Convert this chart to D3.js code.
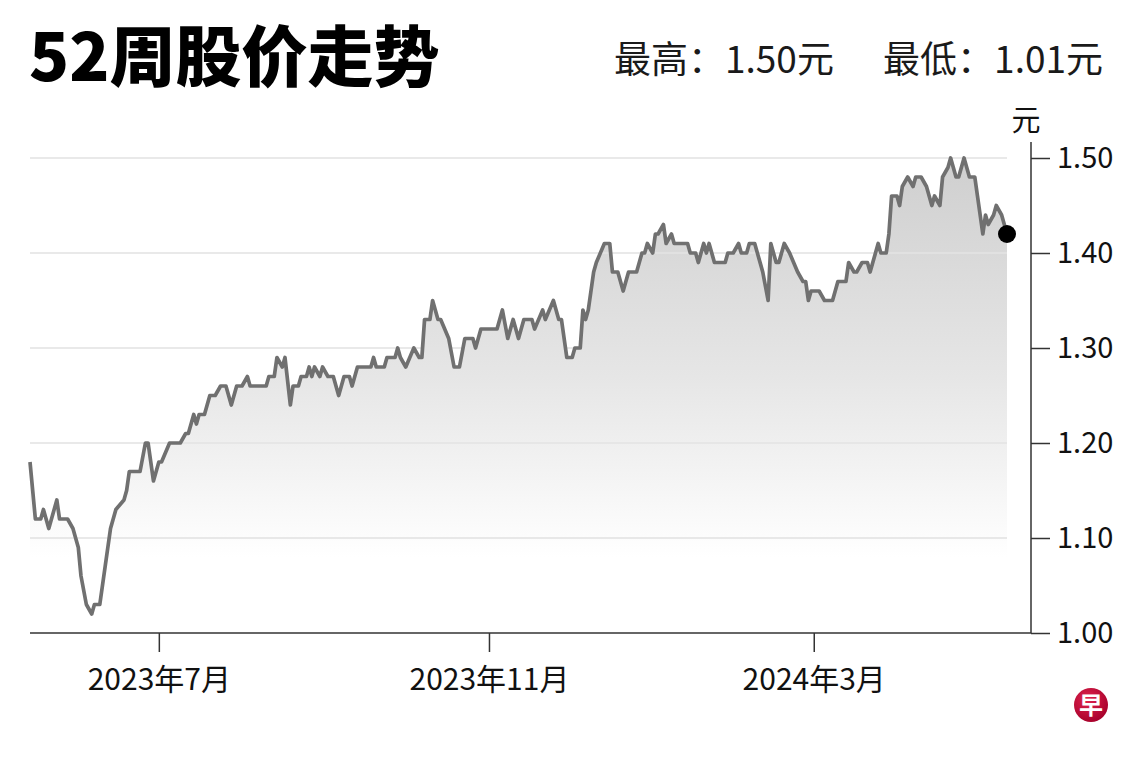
<!DOCTYPE html>
<html>
<head>
<meta charset="utf-8">
<script src="https://cdn.jsdelivr.net/npm/d3@7"></script>
<style>
  body { margin: 0; background: #fff; }
  svg { display: block; font-family: "Noto Sans CJK SC", "Noto Sans", sans-serif; }
</style>
</head>
<body>
<div id="chart"></div>
<script>
let w = 1140;
let h = 760;

// chart values
let dates = [
  "2023-05-14","2023-05-16","2023-05-18","2023-05-19","2023-05-21","2023-05-22","2023-05-24","2023-05-25","2023-05-28","2023-05-30",
  "2023-06-01","2023-06-02","2023-06-04","2023-06-06","2023-06-07","2023-06-09","2023-06-11","2023-06-13","2023-06-15","2023-06-18",
  "2023-06-19","2023-06-20","2023-06-24","2023-06-26","2023-06-27","2023-06-29","2023-07-01","2023-07-02","2023-07-05","2023-07-09",
  "2023-07-11","2023-07-12","2023-07-14","2023-07-15","2023-07-16","2023-07-18","2023-07-20","2023-07-22","2023-07-24","2023-07-26",
  "2023-07-28","2023-07-30","2023-08-01","2023-08-03","2023-08-04","2023-08-10","2023-08-11","2023-08-13","2023-08-14","2023-08-16",
  "2023-08-17","2023-08-19","2023-08-20","2023-08-22","2023-08-23","2023-08-25","2023-08-26","2023-08-27","2023-08-28","2023-08-30",
  "2023-08-31","2023-09-02","2023-09-04","2023-09-06","2023-09-08","2023-09-10","2023-09-11","2023-09-13","2023-09-18","2023-09-19",
  "2023-09-20","2023-09-23","2023-09-24","2023-09-27","2023-09-28","2023-09-29","2023-10-01","2023-10-04","2023-10-06","2023-10-07",
  "2023-10-08","2023-10-10","2023-10-11","2023-10-13","2023-10-14","2023-10-17","2023-10-19","2023-10-21","2023-10-23","2023-10-26",
  "2023-10-27","2023-10-29","2023-11-04","2023-11-06","2023-11-08","2023-11-10","2023-11-12","2023-11-14","2023-11-17","2023-11-18",
  "2023-11-21","2023-11-22","2023-11-25","2023-11-27","2023-11-28","2023-11-30","2023-12-02","2023-12-03","2023-12-05","2023-12-06",
  "2023-12-07","2023-12-08","2023-12-10","2023-12-11","2023-12-14","2023-12-16","2023-12-17","2023-12-19","2023-12-21","2023-12-23",
  "2023-12-26","2023-12-28","2023-12-29","2023-12-30","2024-01-01","2024-01-02","2024-01-03","2024-01-05","2024-01-06","2024-01-08",
  "2024-01-09","2024-01-14","2024-01-15","2024-01-17","2024-01-18","2024-01-20","2024-01-21","2024-01-22","2024-01-24","2024-01-28",
  "2024-01-29","2024-01-31","2024-02-02","2024-02-03","2024-02-05","2024-02-06","2024-02-08","2024-02-09","2024-02-11","2024-02-13",
  "2024-02-14","2024-02-16","2024-02-17","2024-02-19","2024-02-21","2024-02-24","2024-02-26","2024-02-27","2024-02-28","2024-02-29",
  "2024-03-03","2024-03-05","2024-03-08","2024-03-10","2024-03-13","2024-03-14","2024-03-16","2024-03-17","2024-03-19","2024-03-21",
  "2024-03-22","2024-03-25","2024-03-26","2024-03-28","2024-03-29","2024-03-30","2024-04-01","2024-04-02","2024-04-03","2024-04-05",
  "2024-04-07","2024-04-08","2024-04-10","2024-04-12","2024-04-14","2024-04-15","2024-04-17","2024-04-18","2024-04-20","2024-04-21",
  "2024-04-23","2024-04-24","2024-04-26","2024-04-28","2024-04-30","2024-05-01","2024-05-03","2024-05-04","2024-05-05","2024-05-07",
  "2024-05-08","2024-05-10","2024-05-12"
];
let prices = [
  1.18,1.12,1.12,1.13,1.11,1.12,1.14,1.12,1.12,1.11,
  1.09,1.06,1.03,1.02,1.03,1.03,1.07,1.11,1.13,1.14,
  1.15,1.17,1.17,1.20,1.20,1.16,1.18,1.18,1.20,1.20,
  1.21,1.21,1.23,1.22,1.23,1.23,1.25,1.25,1.26,1.26,
  1.24,1.26,1.26,1.27,1.26,1.26,1.27,1.27,1.29,1.28,
  1.29,1.24,1.26,1.26,1.27,1.27,1.28,1.27,1.28,1.27,
  1.28,1.27,1.27,1.25,1.27,1.27,1.26,1.28,1.28,1.29,
  1.28,1.28,1.29,1.29,1.30,1.29,1.28,1.30,1.29,1.29,
  1.33,1.33,1.35,1.33,1.33,1.31,1.28,1.28,1.31,1.31,
  1.30,1.32,1.32,1.34,1.31,1.33,1.31,1.33,1.33,1.32,
  1.34,1.33,1.35,1.33,1.33,1.29,1.29,1.30,1.30,1.34,
  1.33,1.34,1.38,1.39,1.41,1.41,1.38,1.38,1.36,1.38,
  1.38,1.40,1.40,1.41,1.40,1.42,1.42,1.43,1.41,1.42,
  1.41,1.41,1.40,1.40,1.39,1.41,1.40,1.41,1.39,1.39,
  1.40,1.40,1.41,1.40,1.40,1.41,1.41,1.40,1.38,1.35,
  1.41,1.39,1.39,1.41,1.40,1.38,1.37,1.37,1.35,1.36,
  1.36,1.35,1.35,1.37,1.37,1.39,1.38,1.38,1.39,1.39,
  1.38,1.41,1.40,1.40,1.42,1.46,1.46,1.45,1.47,1.48,
  1.47,1.48,1.48,1.47,1.45,1.46,1.45,1.48,1.49,1.50,
  1.48,1.48,1.50,1.48,1.48,1.46,1.42,1.44,1.43,1.44,
  1.45,1.44,1.42
];
let xTicks = ["2023-07-01", "2023-11-01", "2024-03-01"];
let yTicks = [1.00, 1.10, 1.20, 1.30, 1.40, 1.50];
let title = "52周股价走势";
let highText = "最高：1.50元";
let lowText = "最低：1.01元";
let unitText = "元";

let parseDate = d3.timeParse("%Y-%m-%d");

let data = dates.map(function(d, i){
  return {date: parseDate(d), price: prices[i]};
});

let viz = d3.select("#chart")
  .append("svg")
    .attr("width", w)
    .attr("height", h)
;

// scales
let xScale = d3.scaleTime()
  .domain(d3.extent(data, d => d.date))
  .range([30, 1007]);
let yScale = d3.scaleLinear()
  .domain([1.00, 1.50])
  .range([633, 158]);

let axisX = 1031;
let baseY = yScale(1.00);

// gradient under the line
let defs = viz.append("defs");
let grad = defs.append("linearGradient")
  .attr("id", "areaFill")
  .attr("gradientUnits", "userSpaceOnUse")
  .attr("x1", 0).attr("x2", 0)
  .attr("y1", yScale(1.50)).attr("y2", yScale(1.08));
grad.append("stop").attr("offset", "0%").attr("stop-color", "#cfcfcf");
grad.append("stop").attr("offset", "55%").attr("stop-color", "#e6e6e6");
grad.append("stop").attr("offset", "100%").attr("stop-color", "#ffffff");

let area = d3.area()
  .x(d => xScale(d.date))
  .y0(baseY)
  .y1(d => yScale(d.price));

viz.append("path")
  .datum(data)
  .attr("d", area)
  .attr("fill", "url(#areaFill)");

// gridlines (on top of the fill, faint)
viz.append("g")
  .selectAll("line")
  .data(yTicks.filter(v => v > 1.00))
  .enter()
  .append("line")
    .attr("x1", 30)
    .attr("x2", xScale.range()[1])
    .attr("y1", d => yScale(d))
    .attr("y2", d => yScale(d))
    .attr("stroke", "#e4e4e4")
    .attr("stroke-width", 2)
    .attr("opacity", 0.8)
;

// price line
let line = d3.line()
  .x(d => xScale(d.date))
  .y(d => yScale(d.price));

viz.append("path")
  .datum(data)
  .attr("d", line)
  .attr("fill", "none")
  .attr("stroke", "#707070")
  .attr("stroke-width", 3.7)
  .attr("stroke-linejoin", "round");

// last point
let last = data[data.length - 1];
viz.append("circle")
  .attr("cx", xScale(last.date))
  .attr("cy", yScale(last.price))
  .attr("r", 9)
  .attr("fill", "#000");

// x axis
let xAxis = d3.axisBottom(xScale)
  .tickValues(xTicks.map(parseDate))
  .tickFormat(d3.timeFormat("%Y年%-m月"))
  .tickSize(19)
  .tickPadding(17);

let xAxisGroup = viz.append("g")
  .attr("transform", "translate(0," + baseY + ")")
  .call(xAxis);
xAxisGroup.select(".domain").remove();
xAxisGroup.selectAll(".tick line").attr("stroke", "#333").attr("stroke-width", 1.5);
xAxisGroup.selectAll(".tick text")
  .attr("fill", "#111")
  .style("font-size", "30px")
  .style("font-family", "'Noto Sans CJK SC', sans-serif");

viz.append("line")
  .attr("x1", 30).attr("x2", axisX)
  .attr("y1", baseY).attr("y2", baseY)
  .attr("stroke", "#333").attr("stroke-width", 1.5);

// y axis on the right
let yAxis = d3.axisRight(yScale)
  .tickValues(yTicks)
  .tickFormat(d3.format(".2f"))
  .tickSize(19)
  .tickPadding(7);

let yAxisGroup = viz.append("g")
  .attr("transform", "translate(" + axisX + ",0)")
  .call(yAxis);
yAxisGroup.select(".domain").remove();
yAxisGroup.selectAll(".tick line").attr("stroke", "#333").attr("stroke-width", 1.5);
yAxisGroup.selectAll(".tick text")
  .attr("fill", "#111")
  .style("font-size", "29px")
  .style("font-family", "'Noto Sans CJK SC', sans-serif");

viz.append("line")
  .attr("x1", axisX).attr("x2", axisX)
  .attr("y1", 142).attr("y2", baseY)
  .attr("stroke", "#333").attr("stroke-width", 1.5);

// unit label
viz.append("text")
  .text(unitText)
  .attr("x", 1026)
  .attr("y", 131)
  .attr("text-anchor", "middle")
  .attr("fill", "#111")
  .style("font-size", "29px");

// header
viz.append("text")
  .text(title)
  .attr("x", 29)
  .attr("y", 81)
  .attr("fill", "#000")
  .style("font-size", "66px")
  .style("font-weight", 900);

viz.append("text")
  .text(highText)
  .attr("x", 614)
  .attr("y", 73)
  .attr("fill", "#1a1a1a")
  .style("font-size", "37px");

viz.append("text")
  .text(lowText)
  .attr("x", 1103)
  .attr("y", 73)
  .attr("text-anchor", "end")
  .attr("fill", "#1a1a1a")
  .style("font-size", "37px");

// logo
let logo = viz.append("g").attr("transform", "translate(1091,705)");
let lg = defs.append("radialGradient").attr("id", "logoFill").attr("cx", "40%").attr("cy", "35%").attr("r", "70%");
lg.append("stop").attr("offset", "0%").attr("stop-color", "#e0234e");
lg.append("stop").attr("offset", "100%").attr("stop-color", "#a5002a");
logo.append("circle").attr("r", 17).attr("fill", "url(#logoFill)");
logo.append("text")
  .text("早")
  .attr("text-anchor", "middle")
  .attr("dy", "0.36em")
  .attr("fill", "#fff")
  .style("font-size", "24px")
  .style("font-weight", 700);
</script>
</body>
</html>
